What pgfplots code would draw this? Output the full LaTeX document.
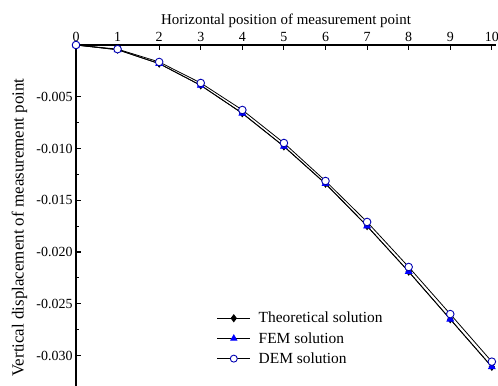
\documentclass[border=0pt]{standalone}
\usepackage{pgfplots}
\pgfplotsset{compat=1.18}
\usepackage{fontspec}
\setmainfont{Liberation Serif}
\begin{document}
\begin{tikzpicture}
\begin{axis}[
  scale only axis,
  width=420bp, height=341bp,
  xmin=0, xmax=10.1,
  ymin=-0.03295, ymax=0,
  axis x line*=top,
  axis y line*=left,
  axis line style={line width=1.3pt},
  tick align=inside,
  major tick length=5bp,
  minor tick length=3bp,
  tick style={line width=1.1pt, black},
  xtick={0,1,...,10},
  ytick={-0.030,-0.025,-0.020,-0.015,-0.010,-0.005},
  minor y tick num=1,
  scaled y ticks=false,
  /pgf/number format/assume math mode=true,
  yticklabel style={/pgf/number format/fixed, /pgf/number format/fixed zerofill, /pgf/number format/precision=3},
  ticklabel style={font=\fontsize{14}{16}\selectfont},
  xlabel={Horizontal position of measurement point},
  ylabel={Vertical displacement of measurement point},
  xlabel style={font=\fontsize{15}{17}\selectfont, yshift=-2bp},
  ylabel style={font=\fontsize{17}{19}\selectfont, at={(axis description cs:-0.1345,0.465)}, anchor=center},
  clip=false,
  legend style={draw=none, fill=none, at={(0.335,0.223)}, anchor=north west,
    font=\fontsize{15.5}{17}\selectfont, row sep=4bp, inner sep=0pt},
  legend cell align=left,
  legend image code/.code={
    \draw[#1] (0bp,0bp) -- (33bp,0bp);
    \draw[#1, only marks, mark size=3.5bp] plot coordinates {(16.5bp,0bp)};
    \path (39bp,0bp);
  },
]
\addplot[black, line width=0.8pt, mark=diamond*, mark size=3.5bp, mark options={fill=black, draw=black}] coordinates {
(0,0) (1,-0.00045) (2,-0.0018) (3,-0.0039) (4,-0.0066) (5,-0.0098)
(6,-0.0134) (7,-0.0175) (8,-0.0219) (9,-0.0265) (10,-0.0311)};
\addlegendentry{Theoretical solution}
\addplot[black, line width=0.8pt, mark=triangle*, mark size=3.8bp, mark options={fill=blue, draw=blue}] coordinates {
(0,0) (1,-0.00046) (2,-0.0018) (3,-0.0039) (4,-0.0066) (5,-0.0098)
(6,-0.0134) (7,-0.0175) (8,-0.0219) (9,-0.0265) (10,-0.0311)};
\addlegendentry{FEM solution}
\addplot[black, line width=0.8pt, mark=*, mark size=3.8bp, mark options={fill=white, draw=blue!70!black, line width=0.9pt}] coordinates {
(0,0) (1,-0.0004) (2,-0.00164) (3,-0.00367) (4,-0.00628) (5,-0.00947)
(6,-0.01314) (7,-0.0171) (8,-0.02145) (9,-0.0260) (10,-0.0306)};
\addlegendentry{DEM solution}
\coordinate (bl) at (rel axis cs:0,0);
\end{axis}
\pgfresetboundingbox
\path (bl) ++(-76bp,0) rectangle ++(498bp,386bp);
\end{tikzpicture}
\end{document}
